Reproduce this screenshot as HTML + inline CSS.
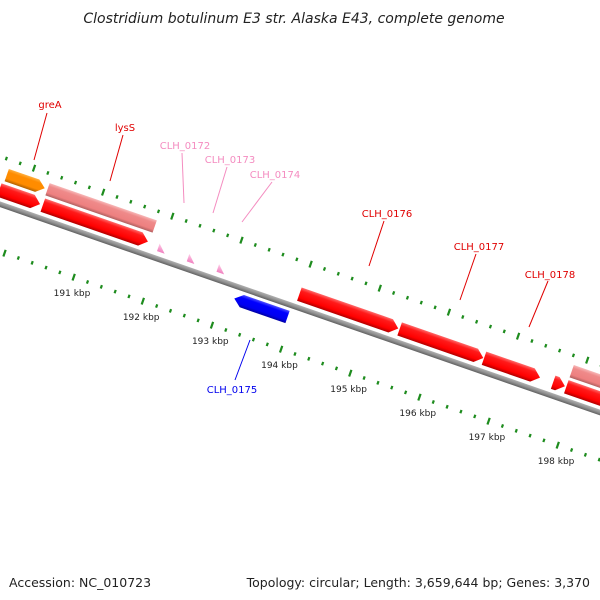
<!DOCTYPE html>
<html><head><meta charset="utf-8">
<style>
html,body{margin:0;padding:0;background:#fff;}
svg{display:block;font-family:"DejaVu Sans","Liberation Sans",sans-serif;}
</style></head>
<body>
<svg id="map" width="600" height="600" viewBox="0 0 600 600" xmlns="http://www.w3.org/2000/svg">
<defs>
<linearGradient id="gRed" x1="0" y1="0" x2="0" y2="1"><stop offset="0" stop-color="#ff6a6a"/><stop offset="0.25" stop-color="#ff1a1a"/><stop offset="0.75" stop-color="#f00"/><stop offset="1" stop-color="#b00000"/></linearGradient>
<linearGradient id="gPink" x1="0" y1="0" x2="0" y2="1"><stop offset="0" stop-color="#f7b8b8"/><stop offset="0.25" stop-color="#ef8a8a"/><stop offset="0.75" stop-color="#ee8080"/><stop offset="1" stop-color="#b06060"/></linearGradient>
<linearGradient id="gOrange" x1="0" y1="0" x2="0" y2="1"><stop offset="0" stop-color="#ffb040"/><stop offset="0.25" stop-color="#ff8c00"/><stop offset="0.75" stop-color="#ff8c00"/><stop offset="1" stop-color="#b06000"/></linearGradient>
<linearGradient id="gBlue" x1="0" y1="0" x2="0" y2="1"><stop offset="0" stop-color="#5050ff"/><stop offset="0.25" stop-color="#0000ff"/><stop offset="0.75" stop-color="#0000f0"/><stop offset="1" stop-color="#0000a0"/></linearGradient>
<linearGradient id="gTri" x1="0" y1="0" x2="0" y2="1"><stop offset="0" stop-color="#ffd0e8"/><stop offset="1" stop-color="#f080c0"/></linearGradient>
<linearGradient id="gBack" x1="0" y1="0" x2="0" y2="1"><stop offset="0" stop-color="#b0b0b0"/><stop offset="0.5" stop-color="#909090"/><stop offset="1" stop-color="#606060"/></linearGradient>
</defs>
<text x="294" y="23" text-anchor="middle" font-size="14" font-style="italic" fill="#222">Clostridium botulinum E3 str. Alaska E43, complete genome</text>
<g id="track" transform="translate(0,204) rotate(19.14)"></g>
<g id="labels"></g>
<text x="9" y="587" font-size="12.5" fill="#222">Accession: NC_010723</text>
<text x="590" y="587" font-size="12.5" text-anchor="end" fill="#222">Topology: circular; Length: 3,659,644 bp; Genes: 3,370</text>
</svg>
<script>
// data
const kbpStart = 189, kbpEnd = 200;
const tickKbp = [191,192,193,194,195,196,197,198];
const tickLabels = ["191 kbp","192 kbp","193 kbp","194 kbp","195 kbp","196 kbp","197 kbp","198 kbp"];
const geneNames = ["red-a","greA","lysS","lysS-red","CLH_0172","CLH_0173","CLH_0174","CLH_0175","CLH_0176","CLH_0177","CLH_0178","small-d","red-e","pink-e"];
const geneStart = [189.65,189.68,190.27,190.28,191.96,192.39,192.82,193.17,193.99,195.44,196.66,197.66,197.85,197.85];
const geneEnd   = [190.24,190.23,191.82,191.80,192.07,192.50,192.93,193.94,195.42,196.65,197.47,197.83,199.5,199.5];
const geneRow   = [1,2,2,1,1,1,1,-1,1,1,1,1,1,2];
const geneColor = ["red","orange","pink","red","tri","tri","tri","blue","red","red","red","red","red","pink"];
const geneDir   = [1,1,0,1,1,1,1,-1,1,1,1,1,1,0];

const NS="http://www.w3.org/2000/svg";
const U0=93.5, PX=73.2; // u at 191 kbp, px per kbp
function uScale(k){return U0+(k-191)*PX;}
const th=19.14*Math.PI/180, C=Math.cos(th), S=Math.sin(th);
function toXY(u,v){return [u*C - v*S, 204 + u*S + v*C];}
const track=document.getElementById('track');
function mk(tag,attrs,parent){const e=document.createElementNS(NS,tag);for(const k in attrs)e.setAttribute(k,attrs[k]);parent.appendChild(e);return e;}

// backbone
const bb=mk('rect',{x:-60,y:-2.5,width:800,height:5.5,fill:'url(#gBack)'},track);



// tick rings
for(let i=Math.round(kbpStart*5); i<=kbpEnd*5; i++){
  const k=i/5, u=uScale(k), major=(i%5===0);
  for(const side of [-45,45]){
    const len=major?7:3.5;
    const t=mk('rect',{x:u-1,y:side-len/2,width:2.2,height:len,fill:'#1e8c1e'},track);
    
    
  }
}
const svg=document.getElementById('map');
tickKbp.forEach((k,i)=>{
  const p=toXY(uScale(k),62);
  const t=mk('text',{x:p[0]+4,y:p[1]+3,'font-size':'9','text-anchor':'middle',fill:'#222'},svg);
  t.textContent=tickLabels[i];
  
  
});

// genes
const fills={red:'url(#gRed)',pink:'url(#gPink)',orange:'url(#gOrange)',blue:'url(#gBlue)',tri:'url(#gTri)'};
geneNames.forEach((n,i)=>{
  const a=uScale(geneStart[i]), b=uScale(geneEnd[i]);
  const r=geneRow[i];
  let v0,v1;
  if(r===1){v0=-20;v1=-6;} else if(r===2){v0=-36;v1=-23;} else {v0=6;v1=19;}
  let pts;
  const tip=Math.min(8,(b-a));
  if(geneColor[i]==='tri'){
    pts=[[a,-15],[b,-7],[a,-7]];
  } else if(geneDir[i]===1){
    pts=[[a,v0],[b-tip,v0],[b,(v0+v1)/2],[b-tip,v1],[a,v1]];
  } else if(geneDir[i]===-1){
    pts=[[a+tip,v0],[b,v0],[b,v1],[a+tip,v1],[a,(v0+v1)/2]];
  } else {
    pts=[[a,v0],[b,v0],[b,v1],[a,v1]];
  }
  const g=mk('polygon',{points:pts.map(p=>p.join(',')).join(' '),fill:fills[geneColor[i]]},track);
  
  
});

// labels (annotation callouts)
const labelText=["greA","lysS","CLH_0172","CLH_0173","CLH_0174","CLH_0176","CLH_0177","CLH_0178","CLH_0175"];
const labelColor=["#e00000","#e00000","#f48cc0","#f48cc0","#f48cc0","#e00000","#e00000","#e00000","#0000ee"];
const labelPos=[[50,108,47,113,34,160],[125,131,123,135,110,181],[185,149,182,153,184,203],[230,163,227,167,213,213],[275,178,272,182,242,222],[387,217,384,221,369,266],[479,250,476,254,460,300],[550,278,548,281,529,327],[232,393,235,380,250,340]];
const lg=document.getElementById('labels');
labelText.forEach((t,i)=>{
  const p=labelPos[i];
  const l=mk('line',{x1:p[2],y1:p[3],x2:p[4],y2:p[5],stroke:labelColor[i],'stroke-width':1},lg);
  
  
  const tx=mk('text',{x:p[0],y:p[1],'font-size':'10','text-anchor':'middle',fill:labelColor[i]},lg);
  tx.textContent=t;
  
  
});
</script>
</body></html>
